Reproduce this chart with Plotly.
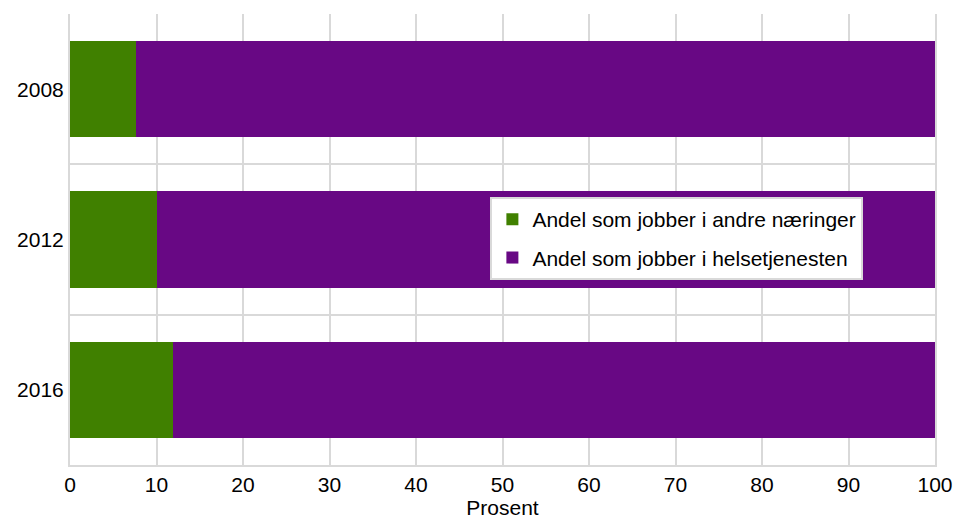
import plotly.graph_objects as go

years = ["2008", "2012", "2016"]
andre_naeringer = [7.6, 10.1, 11.9]
helsetjenesten = [92.4, 89.9, 88.1]

GREEN = "#408000"
PURPLE = "#680884"
GRID = "#d9d9d9"


def draw_plot():
    fig = go.Figure()
    fig.add_trace(go.Bar(y=years, x=andre_naeringer, orientation="h",
                         name="Andel som jobber i andre næringer", legendgroup="a",
                         marker=dict(color=GREEN, line=dict(width=0))))
    fig.add_trace(go.Bar(y=years, x=helsetjenesten, orientation="h",
                         name="Andel som jobber i helsetjenesten", legendgroup="b",
                         marker=dict(color=PURPLE, line=dict(width=0))))

    fig.update_layout(
        barmode="stack",
        bargap=0.36,
        width=956, height=524,
        margin=dict(l=70, r=21, t=14, b=59),
        paper_bgcolor="white", plot_bgcolor="white",
        font=dict(family="Liberation Sans, Arial, sans-serif", size=21, color="#000000"),
        legend=dict(x=0.486, y=0.594, xanchor="left", yanchor="top",
                    bgcolor="white", bordercolor=GRID, borderwidth=2,
                    traceorder="grouped", font=dict(size=21),
                    itemwidth=30, tracegroupgap=8),
        xaxis=dict(range=[0, 100], dtick=10, showgrid=True, gridcolor=GRID, gridwidth=2,
                   zeroline=False, showline=True, linecolor=GRID, linewidth=2,
                   ticks="", automargin=False,
                   title=dict(text="Prosent", standoff=0, font=dict(size=21))),
        yaxis=dict(type="category", autorange="reversed", tickson="boundaries",
                   showgrid=True, gridcolor=GRID, gridwidth=2,
                   showline=True, linecolor=GRID, linewidth=2, mirror=True,
                   ticks="", ticklen=0, automargin=False),
    )
    # drop the default body margin so the figure fills the window without scrolling
    fig.write_html("out.html", config={"displayModeBar": False},
                   post_script="document.body.style.margin='0';document.body.style.overflow='hidden';")


def main():
    draw_plot()


if __name__ == "__main__":
    main()
